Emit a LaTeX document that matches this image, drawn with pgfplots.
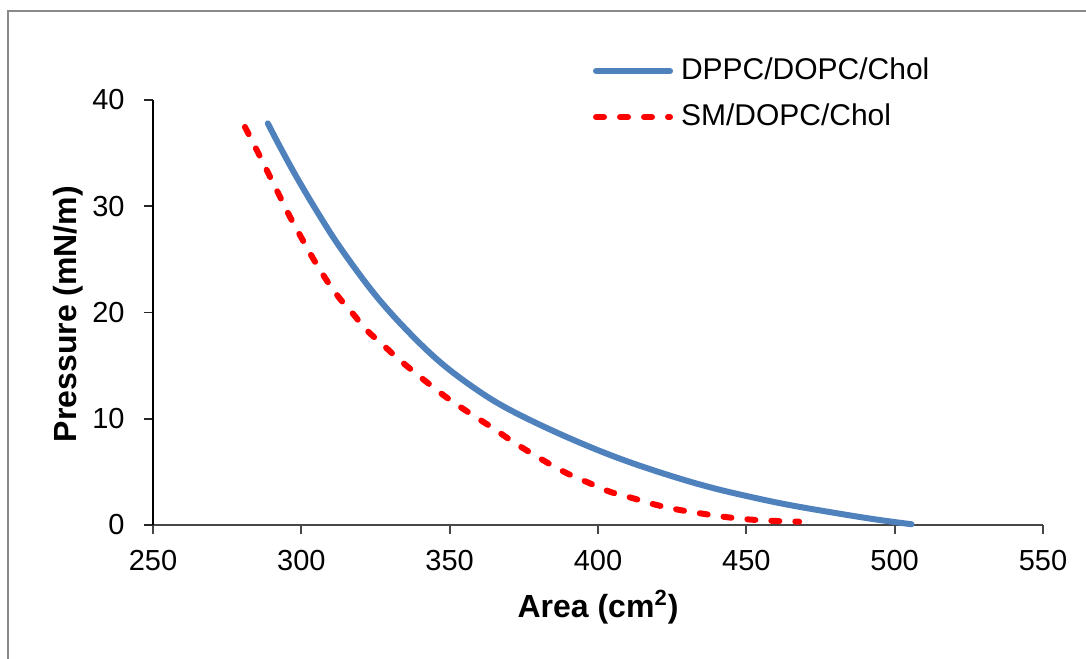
\documentclass[border=0pt]{standalone}
\usepackage{fontspec}
\setmainfont{Liberation Sans}
\usepackage{pgfplots}
\pgfplotsset{compat=1.18}
\definecolor{exblue}{HTML}{4F81BD}
\definecolor{exred}{HTML}{FF0000}
\definecolor{framegray}{HTML}{898989}
\begin{document}
\begin{tikzpicture}
\useasboundingbox (0,0) rectangle (543bp,329.5bp);
\draw[framegray, line width=1bp] (4bp,-5bp) -- (4bp,324bp) -- (560bp,324bp);
\begin{axis}[
  at={(76.5bp,67bp)}, anchor=south west,
  scale only axis, width=445bp, height=212.5bp,
  xmin=250, xmax=550, ymin=0, ymax=40,
  xtick={250,300,...,550}, ytick={0,10,...,40},
  axis x line*=bottom, axis y line*=left,
  x axis line style={-, line width=1bp, black!72},
  y axis line style={-, line width=0.7bp, black},
  tick align=outside, major tick length=4.5bp,
  xtick style={line width=0.9bp, black!72},
  ytick style={line width=0.8bp, black!85},
  minor tick num=0,
  clip=false,
  /pgf/number format/assume math mode=true,
  tick label style={font=\fontsize{14.5bp}{17bp}\selectfont},
  yticklabel style={anchor=east, inner sep=0pt, xshift=-9.5bp},
  xticklabel style={anchor=north, inner sep=0pt, yshift=-8bp},
  every axis x label/.style={at={(axis description cs:0.5,-0.2188)}, anchor=base},
  every axis y label/.style={at={(axis description cs:-0.0955,0.4965)}, anchor=center, rotate=90},
  label style={font=\bfseries\fontsize{16bp}{19bp}\selectfont},
  xlabel={Area\ (cm\textsuperscript{\fontsize{11bp}{12bp}\selectfont 2})},
  ylabel={Pressure (mN/m)},
  legend style={draw=none, fill=none, inner sep=0pt, outer sep=0pt,
    at={(axis description cs:0.4944,1.1002)}, anchor=north west,
    row sep=9.4bp, column sep=4bp,
    font=\fontsize{15bp}{18bp}\selectfont,
    nodes={inner sep=0pt, text height=11bp, text depth=2.6bp},
    cells={anchor=west}},
  legend cell align=left,
  legend image code/.code={\draw[#1] (0bp,0bp) -- (37bp,0bp);},
]
\addplot[exblue, line width=3bp, line cap=round, smooth, tension=0.6] coordinates {
(288.7,37.8)(292.8,35.6)(298.4,32.75)(305.2,29.55)(313.0,26.15)(324.5,21.8)(335.5,18.35)
(346.7,15.35)(358.0,12.95)(369.2,11.0)(386.1,8.7)(404.0,6.6)(420.9,4.95)(437.8,3.55)
(454.6,2.45)(468.1,1.7)(490.6,0.65)(505.7,0.07)};
\addlegendentry{DPPC/DOPC/Chol}
\addplot[exred, line width=3bp, line cap=round, dash pattern=on 4bp off 8bp, smooth, tension=0.6] coordinates {
(281.0,37.46)(285.5,35.0)(289.4,32.8)(292.8,30.9)(296.0,29.1)(300.1,27.0)(303.5,25.3)
(308.6,23.0)(313.0,21.3)(317.5,19.85)(322.0,18.35)(328.2,16.78)(333.8,15.37)(345.6,12.71)
(351.8,11.45)(358.0,10.3)(364.7,9.1)(372.6,7.6)(382.7,5.9)(389.5,4.87)(397.3,3.92)
(404.0,3.13)(411.9,2.51)(419.8,1.88)(427.6,1.41)(434.4,1.10)(442.2,0.78)(450.1,0.54)
(458.0,0.40)(467.8,0.31)};
\addlegendentry{SM/DOPC/Chol}
\end{axis}
\end{tikzpicture}
\end{document}
